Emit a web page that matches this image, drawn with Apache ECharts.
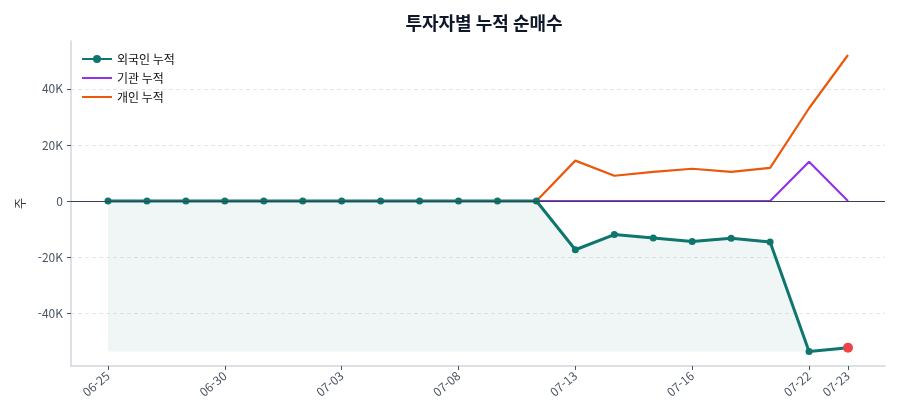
<!DOCTYPE html>
<html lang="ko">
<head>
  <meta charset="utf-8"/>
  <title>투자자별 누적 순매수</title>
  <script src="https://cdn.jsdelivr.net/npm/echarts@6/dist/echarts.min.js"></script>
  <style>
    html, body { margin: 0; padding: 0; background: #fff; }
    #chart { width: 900px; height: 420px; }
  </style>
</head>
<body>
<div id="chart"></div>
<script>
  // 날짜 (20 거래일)
  var dates = ['06-25', '06-26', '06-27', '06-30', '07-01', '07-02', '07-03', '07-04', '07-07', '07-08',
               '07-09', '07-10', '07-13', '07-14', '07-15', '07-16', '07-17', '07-18', '07-22', '07-23'];
  var labelIdx = [0, 3, 6, 9, 12, 15, 18, 19];
  var yTicks = [-40000, -20000, 0, 20000, 40000];

  // 누적 순매수 (주)
  var foreign = [0, 0, 0, 0, 0, 0, 0, 0, 0, 0, 0, 0,
                 -17400, -12000, -13200, -14500, -13300, -14600, -53700, -52400];
  var inst = [0, 0, 0, 0, 0, 0, 0, 0, 0, 0, 0, 0,
              0, 0, 0, 0, 0, 0, 14000, 0];
  var indiv = [0, 0, 0, 0, 0, 0, 0, 0, 0, 0, 0, 0,
               14400, 9000, 10400, 11500, 10400, 11800, 33100, 52100];

  var font = '"Noto Sans CJK KR", "Noto Sans", sans-serif';
  var pairs = arr => arr.map((v, i) => [i, v]);
  var fMin = Math.min.apply(null, foreign);

  var foreignData = pairs(foreign).map((p, i) => {
    if (i === foreign.length - 1) {
      return { value: p, symbolSize: 10, itemStyle: { color: '#ef4444' } };
    }
    return p;
  });

  var chart = echarts.init(document.getElementById('chart'));
  chart.setOption({
    animation: false,
    textStyle: { fontFamily: font },
    title: {
      text: '투자자별 누적 순매수',
      left: 479, top: 9, textAlign: 'center',
      textStyle: { fontSize: 18, fontWeight: 'bold', color: '#0f172a', fontFamily: font }
    },
    legend: {
      orient: 'vertical',
      left: 76, top: 48,
      itemWidth: 30, itemHeight: 10, itemGap: 7,
      textStyle: { fontSize: 12, color: '#111', fontFamily: font },
      data: [
        { name: '외국인 누적' },
        { name: '기관 누적', itemStyle: { opacity: 0 } },
        { name: '개인 누적', itemStyle: { opacity: 0 } }
      ]
    },
    grid: { left: 71, right: 15, top: 41, bottom: 54, containLabel: false },
    xAxis: {
      type: 'value',
      min: -0.95, max: 19.95,
      axisLine: { show: true, onZero: false, lineStyle: { color: '#d1d5db', width: 1.5 } },
      axisTick: { show: true, customValues: labelIdx, length: 4, lineStyle: { color: '#4b5563' } },
      axisLabel: {
        customValues: labelIdx,
        formatter: v => dates[v] || '',
        rotate: 40, color: '#4b5563', fontSize: 12, margin: 8
      },
      splitLine: { show: false }
    },
    yAxis: {
      type: 'value',
      min: -58900, max: 57100,
      name: '주', nameLocation: 'middle', nameGap: 45, nameRotate: 90,
      nameTextStyle: { fontSize: 12, color: '#333', fontFamily: font },
      axisLine: { show: true, onZero: false, lineStyle: { color: '#d1d5db', width: 1.5 } },
      axisTick: { show: true, customValues: yTicks, length: 4, lineStyle: { color: '#4b5563' } },
      axisLabel: {
        customValues: yTicks,
        formatter: v => v === 0 ? '0' : (v / 1000) + 'K',
        color: '#4b5563', fontSize: 12, margin: 8
      },
      splitLine: { show: true, lineStyle: { color: '#e5e7eb', type: [4, 3], width: 1 } }
    },
    series: [
      {
        name: '개인 누적', type: 'line', z: 2,
        data: pairs(indiv), symbol: 'none',
        lineStyle: { color: '#ea580c', width: 2.2 }, itemStyle: { color: '#ea580c' },
        markLine: {
          silent: true, symbol: 'none', label: { show: false },
          lineStyle: { color: '#374151', width: 1, type: 'solid' },
          data: [{ yAxis: 0 }]
        }
      },
      {
        name: '기관 누적', type: 'line', z: 3,
        data: pairs(inst), symbol: 'none',
        lineStyle: { color: '#9333ea', width: 2.2 }, itemStyle: { color: '#9333ea' }
      },
      {
        name: '외국인 누적', type: 'line', z: 4,
        data: foreignData, symbol: 'circle', symbolSize: 7,
        lineStyle: { color: '#0f766e', width: 3 }, itemStyle: { color: '#0f766e' },
        areaStyle: { origin: fMin, color: 'rgba(15,118,110,0.09)' }
      }
    ]
  });
</script>
</body>
</html>
